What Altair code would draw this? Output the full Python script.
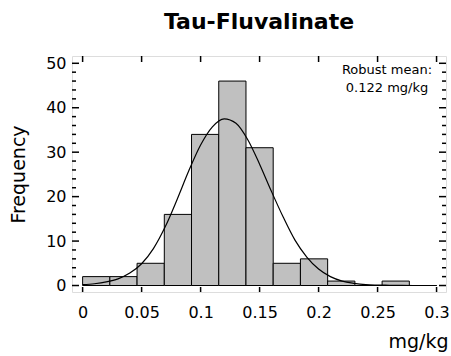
import altair as alt
import numpy as np
import pandas as pd

# Histogram of residue concentrations: 13 equal-width bins between 0 and 0.3 mg/kg
bin_lo = 0.0
bin_hi = 0.3
counts = [2, 2, 5, 16, 34, 46, 31, 5, 6, 1, 0, 1, 0]

# Fitted density curve, scaled to frequency units
curve_x = [0.00, 0.01, 0.02, 0.03, 0.04, 0.05, 0.06, 0.07, 0.08, 0.09, 0.10,
           0.11, 0.12, 0.13, 0.14, 0.15, 0.16, 0.17, 0.18, 0.19, 0.20,
           0.21, 0.22, 0.23, 0.24, 0.25, 0.26, 0.27, 0.28, 0.29, 0.30]
curve_y = [0.2, 0.4, 0.8, 1.5, 2.8, 4.9, 8.3, 13.2, 19.3, 25.8, 31.6,
           35.7, 37.5, 36.5, 32.8, 27.3, 21.2, 15.4, 10.2, 6.4, 3.7,
           2.0, 1.0, 0.5, 0.2, 0.1, 0.05, 0.02, 0.0, 0.0, 0.0]

x_ticks = [0, 0.05, 0.1, 0.15, 0.2, 0.25, 0.3]
y_major = [0, 10, 20, 30, 40, 50]
y_minor = [2, 4, 6, 8, 12, 14, 16, 18, 22, 24, 26, 28,
           32, 34, 36, 38, 42, 44, 46, 48]

note_lines = ["Robust mean:", "0.122 mg/kg"]

W, H = 374, 236
FONT = "DejaVu Sans"
MAJOR, MINOR = 7, 4

edges = np.linspace(bin_lo, bin_hi, len(counts) + 1)
bars_df = pd.DataFrame({"lo": edges[:-1], "hi": edges[1:], "n": counts})
curve_df = pd.DataFrame({"x": curve_x, "y": curve_y})

x_scale = alt.Scale(domain=[-0.009, 0.308], nice=False, zero=False)
y_scale = alt.Scale(domain=[-1.46, 51.64], nice=False, zero=False)

x_axis = alt.Axis(values=x_ticks, format="~g", ticks=False, domain=False, grid=False,
                  labelFont=FONT, labelFontSize=16, labelPadding=12, labelColor="black",
                  title="mg/kg", titleFont=FONT, titleFontSize=19, titleFontWeight="normal",
                  titleColor="black", titleAlign="right", titleBaseline="middle",
                  titleX=W + 2, titleY=49)
y_axis = alt.Axis(values=y_major, format="d", ticks=False, domain=False, grid=False,
                  labelFont=FONT, labelFontSize=16, labelPadding=6, labelColor="black",
                  title="Frequency", titleFont=FONT, titleFontSize=19, titleFontWeight="normal",
                  titleColor="black", titleAngle=-90, titleBaseline="middle",
                  titleAlign="center", titleX=-54, titleY=H / 2)

bars = alt.Chart(bars_df).mark_rect(fill="#c0c0c0", stroke="black", strokeWidth=1).encode(
    x=alt.X("lo:Q", scale=x_scale, axis=x_axis),
    x2="hi:Q",
    y=alt.Y("n:Q", scale=y_scale, axis=y_axis),
    y2=alt.datum(0),
)

curve = alt.Chart(curve_df).mark_line(color="black", strokeWidth=1.2, interpolate="monotone").encode(
    x="x:Q",
    y="y:Q",
)

xt_df = pd.DataFrame({"x": x_ticks})
x_ticks_bottom = alt.Chart(xt_df).mark_rule(color="black", strokeWidth=1.5).encode(
    x="x:Q", y=alt.value(H), y2=alt.value(H - 5))
x_ticks_top = alt.Chart(xt_df).mark_rule(color="black", strokeWidth=1.5).encode(
    x="x:Q", y=alt.value(0), y2=alt.value(6))

ymaj_df = pd.DataFrame({"y": y_major})
ymin_df = pd.DataFrame({"y": y_minor})
y_left_major = alt.Chart(ymaj_df).mark_rule(color="black", strokeWidth=1.5).encode(
    y="y:Q", x=alt.value(0), x2=alt.value(MAJOR))
y_left_minor = alt.Chart(ymin_df).mark_rule(color="black", strokeWidth=1.5).encode(
    y="y:Q", x=alt.value(0), x2=alt.value(MINOR))
y_right_major = alt.Chart(ymaj_df).mark_rule(color="black", strokeWidth=1.5).encode(
    y="y:Q", x=alt.value(W), x2=alt.value(W - MAJOR))
y_right_minor = alt.Chart(ymin_df).mark_rule(color="black", strokeWidth=1.5).encode(
    y="y:Q", x=alt.value(W), x2=alt.value(W - MINOR))

note = alt.Chart(pd.DataFrame({"t": ["\n".join(note_lines)]})).mark_text(
    font=FONT, fontSize=13, align="center", baseline="top", lineBreak="\n",
    lineHeight=17.5, color="black"
).encode(text="t:N", x=alt.value(315), y=alt.value(8))

chart = alt.layer(
    bars, curve, x_ticks_bottom, x_ticks_top,
    y_left_major, y_left_minor, y_right_major, y_right_minor, note,
).properties(
    width=W, height=H,
    title=alt.TitleParams("Tau-Fluvalinate", font=FONT, fontSize=22, fontWeight="bold",
                          anchor="middle", color="black", offset=21),
    autosize=alt.AutoSizeParams(type="none"),
    padding={"left": 72, "top": 56, "right": 5, "bottom": 64},
).configure_view(
    stroke="black", strokeWidth=1.8
).configure(background="white")

chart.save("out.html", embed_options={"renderer": "svg", "actions": False})
